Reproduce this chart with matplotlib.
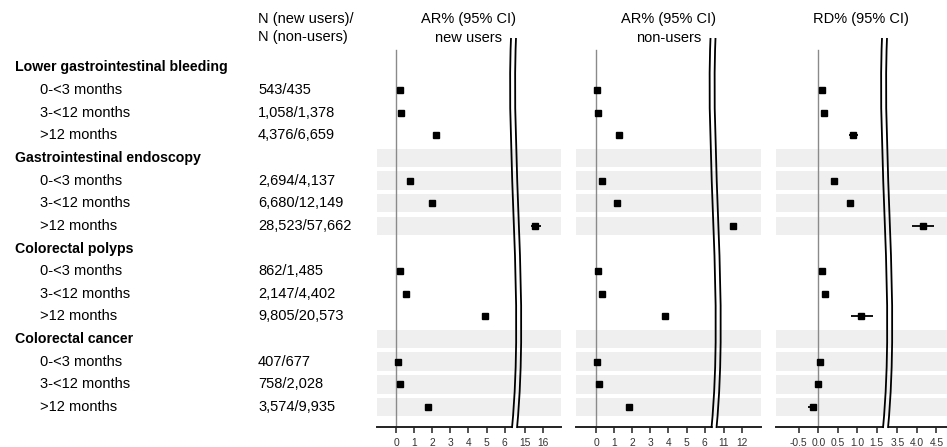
import numpy as np
import matplotlib
matplotlib.use("Agg")
import matplotlib.pyplot as plt
from matplotlib.path import Path
from matplotlib.patches import PathPatch

plt.rcParams['font.family'] = ['Liberation Sans', 'DejaVu Sans']

# ---------------- data ----------------
groups = ["Lower gastrointestinal bleeding", "Gastrointestinal endoscopy",
          "Colorectal polyps", "Colorectal cancer"]
periods = ["0-<3 months", "3-<12 months", ">12 months"]
n_labels = ["543/435", "1,058/1,378", "4,376/6,659",
            "2,694/4,137", "6,680/12,149", "28,523/57,662",
            "862/1,485", "2,147/4,402", "9,805/20,573",
            "407/677", "758/2,028", "3,574/9,935"]

ar_new = [0.2, 0.3, 2.2, 0.8, 2.0, 15.6, 0.2, 0.55, 4.9, 0.1, 0.2, 1.75]
ar_new_lo = [0.15, 0.25, 2.1, 0.75, 1.95, 15.35, 0.15, 0.5, 4.75, 0.05, 0.15, 1.65]
ar_new_hi = [0.25, 0.35, 2.3, 0.85, 2.05, 15.9, 0.25, 0.6, 5.05, 0.15, 0.25, 1.85]

ar_non = [0.05, 0.13, 1.25, 0.35, 1.16, 11.5, 0.13, 0.35, 3.83, 0.04, 0.17, 1.83]
ar_non_lo = [0.02, 0.1, 1.2, 0.32, 1.12, 11.4, 0.1, 0.32, 3.78, 0.02, 0.14, 1.78]
ar_non_hi = [0.08, 0.16, 1.3, 0.38, 1.2, 11.6, 0.16, 0.38, 3.88, 0.06, 0.2, 1.88]

rd = [0.09, 0.15, 0.9, 0.39, 0.82, 4.15, 0.09, 0.17, 1.1, 0.05, 0.0, -0.14]
rd_lo = [0.05, 0.1, 0.78, 0.34, 0.76, 3.87, 0.04, 0.1, 0.85, 0.01, -0.05, -0.26]
rd_hi = [0.13, 0.2, 1.02, 0.44, 0.88, 4.44, 0.14, 0.24, 1.4, 0.09, 0.05, -0.04]

ticks_new = [0, 1, 2, 3, 4, 5, 6, 15, 16]
ticks_non = [0, 1, 2, 3, 4, 5, 6, 11, 12]
ticks_rd = [-0.5, 0.0, 0.5, 1.0, 1.5, 3.5, 4.0, 4.5]
tick_labels_rd = ["-0.5", "0.0", "0.5", "1.0", "1.5", "3.5", "4.0", "4.5"]

header_n = ["N (new users)/", "N (non-users)"]
header_panels = [["AR% (95% CI)", "new users"], ["AR% (95% CI)", "non-users"], ["RD% (95% CI)"]]

# ---------------- layout ----------------
W, H = 947, 447
fig = plt.figure(figsize=(W / 100, H / 100), dpi=100)

def fx(px):
    return px / W

def fy(py):
    return 1 - py / H

row0, drow = 67.3, 22.65
top_px, bot_px = 40, 427
ylim = ((bot_px - row0) / drow, (top_px - row0) / drow)

sub_rows = [4 * g + 1 + p for g in range(len(groups)) for p in range(len(periods))]
shaded_groups = [1, 3]

FS = 10.5
FS_BOLD = 10.2
TICK_FS = 7.4
HDR_Y = [18.5, 37.5]

# text column
axt = fig.add_axes([0, fy(bot_px), fx(370), (bot_px - top_px) / H])
axt.set_xlim(0, 370)
axt.set_ylim(*ylim)
axt.axis('off')
for g, name in enumerate(groups):
    axt.text(15, 4 * g, name, fontsize=FS_BOLD, fontweight='bold', va='center', ha='left')
    for p, per in enumerate(periods):
        axt.text(40, 4 * g + 1 + p, per, fontsize=FS, va='center', ha='left')
for i, lab in zip(sub_rows, n_labels):
    axt.text(258, i, lab, fontsize=FS, va='center', ha='left')

for line, yy in zip(header_n, HDR_Y):
    fig.text(fx(258), fy(yy), line, fontsize=FS, va='center', ha='left')

panels = [
    dict(x0=376.7, x1=561.0, zero=396.0, ppu=18.1, b=6.6, shift=7.9,
         vals=ar_new, lo=ar_new_lo, hi=ar_new_hi, ticks=ticks_new,
         tl=[str(t) for t in ticks_new], brk=511.0, hdr=header_panels[0]),
    dict(x0=576.3, x1=761.0, zero=596.0, ppu=18.1, b=6.6, shift=3.95,
         vals=ar_non, lo=ar_non_lo, hi=ar_non_hi, ticks=ticks_non,
         tl=[str(t) for t in ticks_non], brk=710.5, hdr=header_panels[1]),
    dict(x0=775.5, x1=947.0, zero=818.3, ppu=39.0, b=1.75, shift=1.47,
         vals=rd, lo=rd_lo, hi=rd_hi, ticks=ticks_rd,
         tl=tick_labels_rd, brk=882.0, hdr=header_panels[2]),
]

for P in panels:
    ax = fig.add_axes([fx(P['x0']), fy(bot_px), fx(P['x1'] - P['x0']), (bot_px - top_px) / H])
    b, sh = P['b'], P['shift']
    fwd = (lambda x, b=b, sh=sh: np.where(np.asarray(x) <= b, x, np.asarray(x) - sh))
    inv = (lambda y, b=b, sh=sh: np.where(np.asarray(y) <= b, y, np.asarray(y) + sh))
    ax.set_xscale('function', functions=(fwd, inv))
    lo_m = (P['x0'] - P['zero']) / P['ppu']
    hi_m = (P['x1'] - P['zero']) / P['ppu']
    ax.set_xlim(lo_m, hi_m + sh)
    ax.set_ylim(*ylim)

    # shaded bands
    for g in shaded_groups:
        for r in range(4):
            ax.axhspan(4 * g + r - 0.41, 4 * g + r + 0.41, color='#efefef', lw=0, zorder=0)

    # zero line
    ax.plot([0, 0], [ylim[0], -0.75], color='#8a8a8a', lw=1.0, zorder=1)

    # CIs and points
    ax.hlines(sub_rows, P['lo'], P['hi'], color='black', lw=1.3, zorder=3)
    ax.plot(P['vals'], sub_rows, ls='none', marker='s', ms=4.3, color='black', zorder=4)

    for s in ['top', 'right', 'left']:
        ax.spines[s].set_visible(False)
    ax.spines['bottom'].set_color('#222222')
    ax.spines['bottom'].set_linewidth(1.4)
    ax.set_yticks([])
    ax.set_xticks(P['ticks'])
    ax.set_xticklabels(P['tl'])
    ax.minorticks_off()
    ax.tick_params(axis='x', length=4, width=1.1, color='#222222', labelsize=TICK_FS,
                   labelcolor='#333333', pad=4)
    ax.patch.set_alpha(0)

    # header
    cx = (P['x0'] + P['x1']) / 2
    for line, yy in zip(P['hdr'], HDR_Y):
        fig.text(fx(cx), fy(yy), line, fontsize=FS, ha='center', va='center')

    # axis break: two wavy lines
    for dx in (0.0, 5.0):
        x0 = P['brk'] + dx
        verts = [(x0, 38), (x0 - 5, 160), (x0 + 13, 300), (x0 + 1, 428)]
        verts_f = [(fx(vx), fy(vy)) for vx, vy in verts]
        path = Path(verts_f, [Path.MOVETO, Path.CURVE4, Path.CURVE4, Path.CURVE4])
        fig.patches.append(PathPatch(path, transform=fig.transFigure, fill=False,
                                     lw=1.3, edgecolor='black', zorder=10))
    # gap in bottom spine
    gap = plt.Rectangle((fx(P['brk'] + 2.4), fy(bot_px) - 0.006), fx(2.8), 0.012,
                        transform=fig.transFigure, color='white', zorder=9)
    fig.patches.append(gap)

fig.savefig("out.png", dpi=100)
